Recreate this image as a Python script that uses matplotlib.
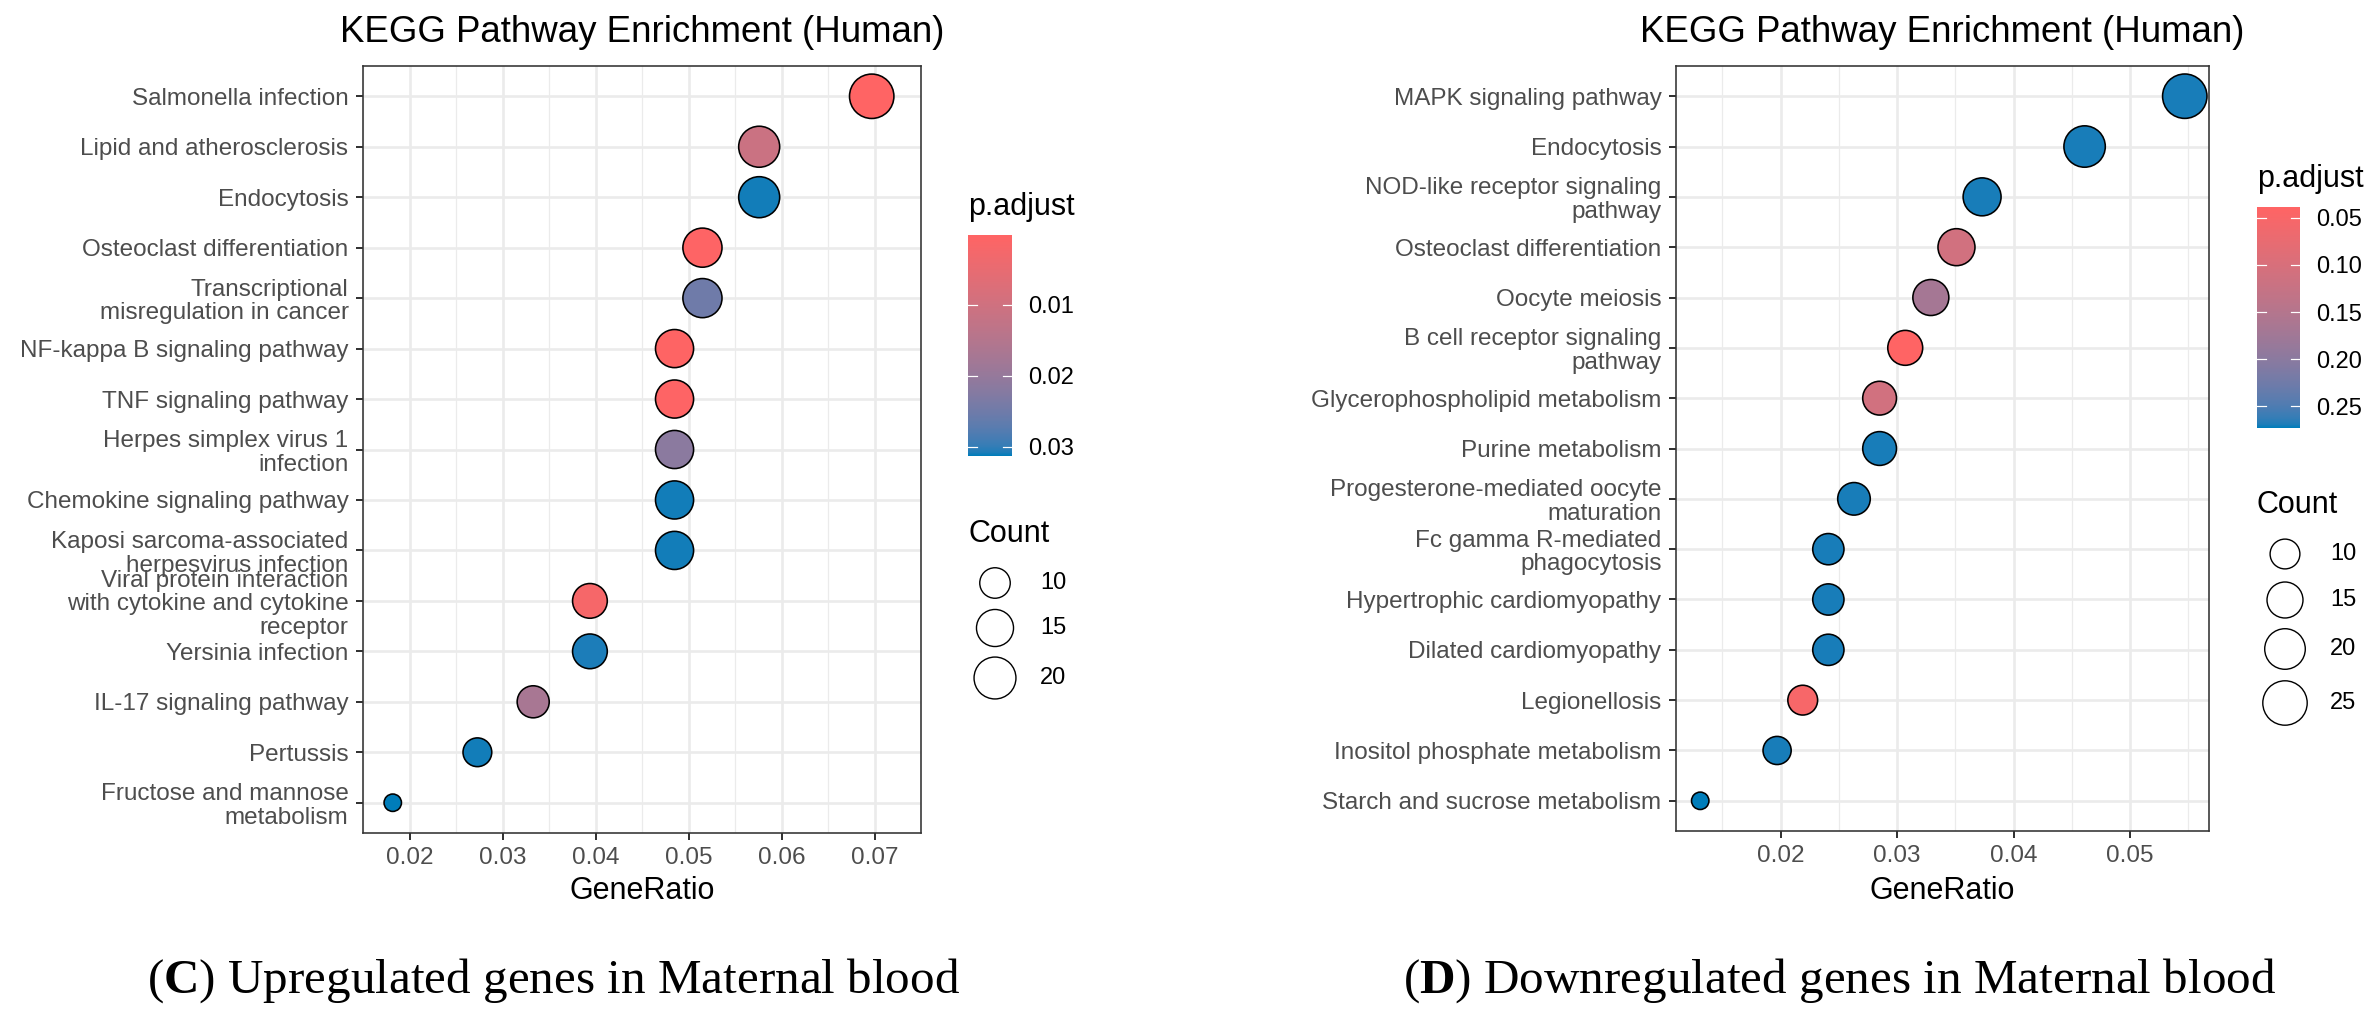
import numpy as np
import matplotlib
matplotlib.use("Agg")
import matplotlib.pyplot as plt
from matplotlib.colors import ListedColormap, Normalize, to_rgb
from matplotlib.cm import ScalarMappable

# ---------------- data ----------------
up_terms = [
    "Salmonella infection",
    "Lipid and atherosclerosis",
    "Endocytosis",
    "Osteoclast differentiation",
    "Transcriptional\nmisregulation in cancer",
    "NF-kappa B signaling pathway",
    "TNF signaling pathway",
    "Herpes simplex virus 1\ninfection",
    "Chemokine signaling pathway",
    "Kaposi sarcoma-associated\nherpesvirus infection",
    "Viral protein interaction\nwith cytokine and cytokine\nreceptor",
    "Yersinia infection",
    "IL-17 signaling pathway",
    "Pertussis",
    "Fructose and mannose\nmetabolism",
]
up_ratio = [0.0697, 0.0576, 0.0576, 0.0515, 0.0515, 0.0485, 0.0485, 0.0485,
            0.0485, 0.0485, 0.0394, 0.0394, 0.0333, 0.0273, 0.0182]
up_count = [23, 19, 19, 17, 17, 16, 16, 16, 16, 16, 13, 13, 11, 9, 6]
up_padj = [0.00014, 0.0110, 0.0310, 0.0004, 0.0250, 0.0003, 0.0005, 0.0215,
           0.0310, 0.0310, 0.0020, 0.0308, 0.0170, 0.0310, 0.0313]
up_xticks = [0.02, 0.03, 0.04, 0.05, 0.06, 0.07]
up_cbar_ticks = [0.01, 0.02, 0.03]
up_size_breaks = [10, 15, 20]

down_terms = [
    "MAPK signaling pathway",
    "Endocytosis",
    "NOD-like receptor signaling\npathway",
    "Osteoclast differentiation",
    "Oocyte meiosis",
    "B cell receptor signaling\npathway",
    "Glycerophospholipid metabolism",
    "Purine metabolism",
    "Progesterone-mediated oocyte\nmaturation",
    "Fc gamma R-mediated\nphagocytosis",
    "Hypertrophic cardiomyopathy",
    "Dilated cardiomyopathy",
    "Legionellosis",
    "Inositol phosphate metabolism",
    "Starch and sucrose metabolism",
]
down_ratio = [0.0547, 0.0461, 0.0373, 0.0351, 0.0329, 0.0307, 0.0285, 0.0285,
              0.0263, 0.0241, 0.0241, 0.0241, 0.0219, 0.0197, 0.0131]
down_count = [25, 21, 17, 16, 15, 14, 13, 13, 12, 11, 11, 11, 10, 9, 6]
down_padj = [0.2700, 0.2700, 0.2700, 0.1100, 0.1700, 0.0383, 0.1100, 0.2700,
             0.2700, 0.2700, 0.2700, 0.2700, 0.0520, 0.2700, 0.2734]
down_xticks = [0.02, 0.03, 0.04, 0.05]
down_cbar_ticks = [0.05, 0.10, 0.15, 0.20, 0.25]
down_size_breaks = [10, 15, 20, 25]

title_text = "KEGG Pathway Enrichment (Human)"
captions = [("C", "Upregulated genes in Maternal blood"),
            ("D", "Downregulated genes in Maternal blood")]

# ---------------- style ----------------
W, H, DPI = 2379, 1019, 100
LOW_COL = "#FF6464"   # small p.adjust
HIGH_COL = "#007DBA"  # large p.adjust
SANS = ["Liberation Sans", "DejaVu Sans"]
plt.rcParams["font.family"] = SANS
plt.rcParams["mathtext.fontset"] = "custom"
plt.rcParams["mathtext.rm"] = "Liberation Serif"
plt.rcParams["mathtext.bf"] = "Liberation Serif:bold"

PX = 72.0 / DPI  # points per pixel
D_MIN, D_MAX = 19.0, 46.0  # marker outer diameters in px
EDGE_PX = 1.6


# Lab-space gradient like ggplot's seq_gradient_pal
_M = np.array([[0.4124, 0.3576, 0.1805],
               [0.2126, 0.7152, 0.0722],
               [0.0193, 0.1192, 0.9505]])
_Minv = np.linalg.inv(_M)
_WP = np.array([0.95047, 1.0, 1.08883])


def _lin(c):
    c = np.asarray(c, float)
    return np.where(c <= 0.04045, c / 12.92, ((c + 0.055) / 1.055) ** 2.4)


def _gam(c):
    c = np.clip(c, 0, None)
    return np.where(c <= 0.0031308, 12.92 * c, 1.055 * np.power(c, 1 / 2.4) - 0.055)


def _f(t):
    d = 6 / 29
    return np.where(t > d ** 3, np.cbrt(t), t / (3 * d * d) + 4 / 29)


def _finv(t):
    d = 6 / 29
    return np.where(t > d, t ** 3, 3 * d * d * (t - 4 / 29))


def rgb2lab(rgb):
    xyz = _M @ _lin(rgb) / _WP
    fx, fy, fz = _f(xyz)
    return np.array([116 * fy - 16, 500 * (fx - fy), 200 * (fy - fz)])


def lab2rgb(lab):
    L, a, b = lab
    fy = (L + 16) / 116
    fx = fy + a / 500
    fz = fy - b / 200
    xyz = _finv(np.array([fx, fy, fz])) * _WP
    return np.clip(_gam(_Minv @ xyz), 0, 1)


l1, l2 = rgb2lab(to_rgb(LOW_COL)), rgb2lab(to_rgb(HIGH_COL))
cmap = ListedColormap([lab2rgb(l1 + t * (l2 - l1)) for t in np.linspace(0, 1, 256)])


def marker_area(counts, cmin, cmax):
    c = np.asarray(counts, float)
    d = D_MIN + (D_MAX - D_MIN) * np.sqrt((c - cmin) / (cmax - cmin))
    return ((d - EDGE_PX) * PX) ** 2


def fx(x):
    return x / W


def fy(y):
    return 1 - y / H


fig = plt.figure(figsize=(W / DPI, H / DPI), dpi=DPI)
fig.patch.set_facecolor("white")


def panel(left, right, top, bottom, terms, ratio, count, padj, xticks,
          cb_rect, cb_ticks, cb_title_pos, cnt_title_pos, cnt_x, cnt_lab_x,
          cnt_ys, breaks, caption, cap_pos):
    ax = fig.add_axes([fx(left), fy(bottom), fx(right - left), (bottom - top) / H])
    n = len(terms)
    y = np.arange(n)
    norm = Normalize(min(padj), max(padj))
    cmin, cmax = min(count), max(count)
    ax.scatter(ratio, y, s=marker_area(count, cmin, cmax), c=padj, cmap=cmap,
               norm=norm, edgecolors="black", linewidths=EDGE_PX * PX, zorder=3)
    lo, hi = min(ratio), max(ratio)
    r = hi - lo
    ax.set_xlim(lo - 0.05 * r, hi + 0.05 * r)
    ax.set_ylim(n - 1 + 0.6, -0.6)
    ax.set_yticks(y)
    ax.set_yticklabels(terms, linespacing=1.1)
    ax.set_xticks(xticks)
    ax.set_xticklabels([f"{v:.2f}" for v in xticks])
    step = xticks[1] - xticks[0]
    minor = np.arange(xticks[0] - step / 2, xticks[-1] + step, step)
    ax.set_xticks(minor, minor=True)
    ax.tick_params(which="major", length=7 * PX * 1.0, width=2 * PX,
                   color="#333333", labelsize=17.5, labelcolor="#4D4D4D",
                   pad=7.5 * PX)
    ax.tick_params(which="minor", length=0)
    ax.grid(which="major", color="#EBEBEB", linewidth=2.6 * PX, zorder=0)
    ax.grid(which="minor", axis="x", color="#EBEBEB", linewidth=1.3 * PX, zorder=0)
    ax.set_axisbelow(True)
    for s in ax.spines.values():
        s.set_color("#333333")
        s.set_linewidth(1.6 * PX)
    cx = (left + right) / 2
    fig.text(fx(cx), fy(42), title_text, fontsize=26.4, ha="center",
             va="baseline", color="black")
    fig.text(fx(cx), fy(899), "GeneRatio", fontsize=22, ha="center",
             va="baseline", color="black")

    # colorbar
    cx0, cy0, cx1, cy1 = cb_rect
    cax = fig.add_axes([fx(cx0), fy(cy1), fx(cx1 - cx0), (cy1 - cy0) / H])
    cb = fig.colorbar(ScalarMappable(norm=norm, cmap=cmap), cax=cax)
    cb.outline.set_visible(False)
    cax.invert_yaxis()
    cb.set_ticks(cb_ticks)
    cb.set_ticklabels([f"{t:.2f}" for t in cb_ticks])
    cax.tick_params(length=0, labelsize=17, pad=16 * PX, labelcolor="black")
    for t in cb_ticks:
        cax.plot([0, 0.2], [t, t], color="white", lw=1.2 * PX, zorder=5)
        cax.plot([0.8, 1], [t, t], color="white", lw=1.2 * PX, zorder=5)
    fig.text(fx(cb_title_pos[0]), fy(cb_title_pos[1]), "p.adjust", fontsize=22,
             ha="left", va="baseline")

    # size legend
    fig.text(fx(cnt_title_pos[0]), fy(cnt_title_pos[1]), "Count", fontsize=22,
             ha="left", va="baseline")
    lg = fig.add_axes([0, 0, 1, 1], facecolor="none")
    lg.set_xlim(0, W)
    lg.set_ylim(H, 0)
    lg.axis("off")
    lg.scatter([cnt_x] * len(breaks), cnt_ys, s=marker_area(breaks, cmin, cmax),
               facecolors="white", edgecolors="black", linewidths=1.4 * PX)
    for b, yy in zip(breaks, cnt_ys):
        lg.text(cnt_lab_x, yy, str(b), fontsize=17, ha="left", va="center")

    letter, rest = caption
    fig.text(fx(cap_pos[0]), fy(cap_pos[1]), "($\\mathbf{" + letter + "}$) " + rest,
             fontsize=35.4, family=["Liberation Serif", "DejaVu Serif"],
             ha="left", va="baseline", color="black")
    return ax


panel(363, 921, 66, 833, up_terms, up_ratio, up_count, up_padj, up_xticks,
      (968, 235, 1012, 456), up_cbar_ticks, (968, 215), (969, 542), 995, 1040,
      [583, 628, 678], up_size_breaks, captions[0], (147, 993))

panel(1676, 2209, 66, 831, down_terms, down_ratio, down_count, down_padj, down_xticks,
      (2257, 207, 2300, 428), down_cbar_ticks, (2257, 187), (2257, 513), 2285, 2330,
      [554, 600, 649, 703], down_size_breaks, captions[1], (1403, 993))

fig.savefig("out.png", dpi=DPI, facecolor="white")
